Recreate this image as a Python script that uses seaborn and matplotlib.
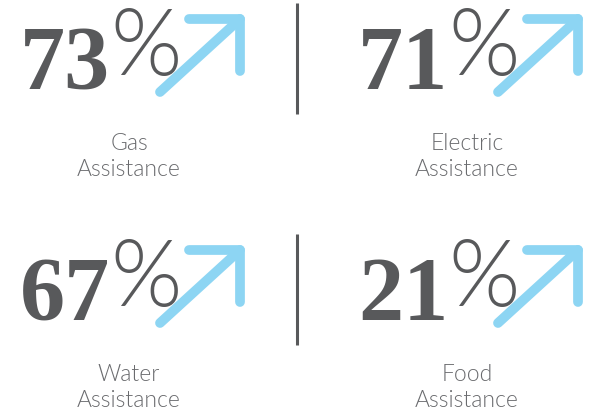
import matplotlib
matplotlib.use("Agg")
import matplotlib.pyplot as plt
import seaborn as sns
import pandas as pd

# ---- data ----
categories = ["Gas", "Electric", "Water", "Food"]
label_suffix = "Assistance"
percent_values = [73, 71, 67, 21]

sns.set_theme(style="white")
plt.rcParams['font.family'] = ['Lato', 'DejaVu Sans']

NUM_COLOR = "#58595b"
LABEL_COLOR = "#6a6b6e"
ARROW_COLOR = "#8dd5f3"

W, H = 589, 410
fig = plt.figure(figsize=(W / 100, H / 100), dpi=100)
ax = fig.add_axes([0, 0, 1, 1])
ax.set_xlim(0, W)
ax.set_ylim(H, 0)

col_off = [0, 338]
row_off = [0, 231]

for i, (cat, val) in enumerate(zip(categories, percent_values)):
    dx = col_off[i % 2]
    dy = row_off[i // 2]
    # arrow (decorative)
    diag = pd.DataFrame({"x": [dx + 160, dx + 240], "y": [dy + 93, dy + 20]})
    head = pd.DataFrame({"x": [dx + 189, dx + 240, dx + 240],
                         "y": [dy + 20, dy + 20, dy + 72]})
    for df in (diag, head):
        sns.lineplot(data=df, x="x", y="y", sort=False, estimator=None, ax=ax,
                     color=ARROW_COLOR, linewidth=7.0, solid_capstyle="round",
                     solid_joinstyle="round", zorder=1)
    # number
    ax.text(dx + 110, dy + 89, f"{val}", ha="right", va="baseline",
            fontsize=65, fontweight="bold", family=["Liberation Serif"],
            color=NUM_COLOR, zorder=3)
    ax.text(dx + 110, dy + 75, "%", ha="left", va="baseline",
            fontsize=66, fontweight=300, family=["Lato", "DejaVu Sans"],
            color=NUM_COLOR, zorder=3)
    # labels
    ax.text(dx + 129, dy + 150, cat, ha="center", va="baseline",
            fontsize=16.5, fontweight=300, color=LABEL_COLOR)
    ax.text(dx + 129, dy + 176, label_suffix, ha="center", va="baseline",
            fontsize=16.5, fontweight=300, color=LABEL_COLOR)

# dividers
for dy in row_off:
    ax.plot([297, 297], [dy + 4, dy + 115], color=NUM_COLOR, linewidth=2.2,
            solid_capstyle="butt")

ax.set_xlim(0, W)
ax.set_ylim(H, 0)
ax.axis("off")
fig.savefig("out.png", dpi=100)
